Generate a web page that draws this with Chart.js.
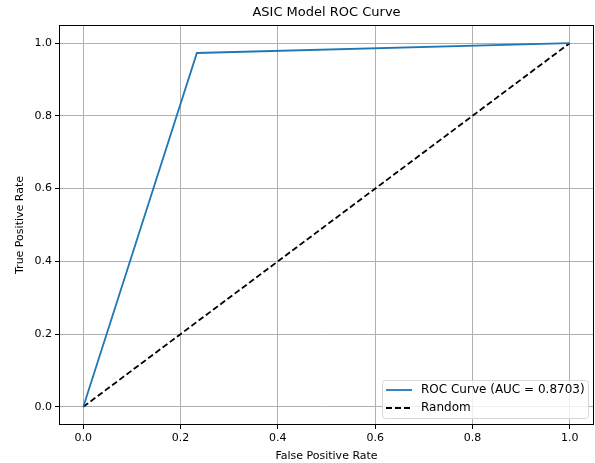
<!DOCTYPE html>
<html>
<head>
<meta charset="utf-8">
<script src="https://cdn.jsdelivr.net/npm/chart.js@4"></script>
<style>
  body { margin: 0; background: #fff; }
  #wrap { width: 595px; height: 463px; }
</style>
</head>
<body>
<div id="wrap"><canvas id="rocChart"></canvas></div>
<script>
// ROC curve points
const rocFpr = [0.0, 0.2335, 1.0];
const rocTpr = [0.0, 0.973, 1.0];
const randomFpr = [0.0, 1.0];
const randomTpr = [0.0, 1.0];
const tickValues = [0.0, 0.2, 0.4, 0.6, 0.8, 1.0];
const chartTitle = 'ASIC Model ROC Curve';
const rocLabel = 'ROC Curve (AUC = 0.8703)';
const randomLabel = 'Random';

const FONT = "'DejaVu Sans', sans-serif";

function toPoints(xs, ys) {
  return xs.map((x, i) => ({ x: x, y: ys[i] }));
}

// box round the plot, title over the axes, legend lower right (matplotlib look)
const framePlugin = {
  id: 'frame',
  afterDatasetsDraw(chart) {
    const ctx = chart.ctx;
    const a = chart.chartArea;
    ctx.save();
    ctx.strokeStyle = '#000';
    ctx.lineWidth = 1;
    ctx.strokeRect(a.left + 0.5, a.top + 0.5, a.right - a.left - 1, a.bottom - a.top - 1);

    // title centred on the axes
    ctx.fillStyle = '#000';
    ctx.font = '13px ' + FONT;
    ctx.textAlign = 'center';
    ctx.textBaseline = 'middle';
    ctx.fillText(chartTitle, (a.left + a.right) / 2, 13);

    // legend
    const sets = chart.data.datasets;
    const w = 206, h = 38;
    const x = a.right - w - 6, y = a.bottom - h - 7;
    ctx.fillStyle = 'rgba(255,255,255,0.8)';
    ctx.strokeStyle = '#d6d6d6';
    ctx.lineWidth = 1;
    ctx.beginPath();
    ctx.roundRect(x + 0.5, y + 0.5, w, h, 3);
    ctx.fill();
    ctx.stroke();
    ctx.font = '12px ' + FONT;
    ctx.textAlign = 'left';
    sets.forEach((ds, i) => {
      const ly = y + 10 + i * 18;
      ctx.strokeStyle = ds.borderColor;
      ctx.lineWidth = ds.borderWidth;
      ctx.setLineDash(ds.borderDash || []);
      ctx.beginPath();
      ctx.moveTo(x + 4, ly);
      ctx.lineTo(x + 30, ly);
      ctx.stroke();
      ctx.setLineDash([]);
      ctx.fillStyle = '#000';
      ctx.fillText(ds.label, x + 39, ly);
    });
    ctx.restore();
  }
};

const ctx = document.getElementById('rocChart').getContext('2d');
const rocChart = new Chart(ctx, {
  type: 'scatter',
  data: {
    datasets: [{
      label: rocLabel,
      data: toPoints(rocFpr, rocTpr),
      showLine: true,
      borderColor: '#1f77b4',
      borderWidth: 1.8,
      pointRadius: 0,
      fill: false
    }, {
      label: randomLabel,
      data: toPoints(randomFpr, randomTpr),
      showLine: true,
      borderColor: '#000',
      borderWidth: 1.8,
      borderDash: [6, 3],
      pointRadius: 0,
      fill: false
    }]
  },
  options: {
    responsive: true,
    maintainAspectRatio: false,
    animation: false,
    layout: { padding: { left: 0, right: 1, top: 25, bottom: 0 } },
    plugins: {
      legend: { display: false },
      tooltip: { enabled: false },
      title: { display: false }
    },
    scales: {
      x: {
        type: 'linear',
        min: -0.05,
        max: 1.05,
        afterBuildTicks(scale) { scale.ticks = tickValues.map(v => ({ value: v })); },
        afterFit(scale) { scale.height = 38; },
        ticks: {
          color: '#000',
          font: { family: FONT, size: 11 },
          padding: 3,
          callback: v => v.toFixed(1)
        },
        grid: { color: '#b0b0b0', tickColor: '#000', tickLength: 4 },
        border: { display: false },
        title: {
          display: true,
          text: 'False Positive Rate',
          color: '#000',
          font: { family: FONT, size: 11 },
          padding: { top: 1, bottom: 0 }
        }
      },
      y: {
        type: 'linear',
        min: -0.05,
        max: 1.05,
        afterBuildTicks(scale) { scale.ticks = tickValues.map(v => ({ value: v })); },
        afterFit(scale) { scale.width = 59; },
        ticks: {
          color: '#000',
          font: { family: FONT, size: 11 },
          padding: 3,
          callback: v => v.toFixed(1)
        },
        grid: { color: '#b0b0b0', tickColor: '#000', tickLength: 4 },
        border: { display: false },
        title: {
          display: true,
          text: 'True Positive Rate',
          color: '#000',
          font: { family: FONT, size: 11 },
          padding: { top: 14, bottom: 4 }
        }
      }
    }
  },
  plugins: [framePlugin]
});
</script>
</body>
</html>
